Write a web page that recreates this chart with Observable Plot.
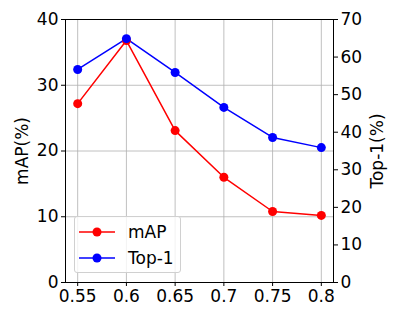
<!DOCTYPE html>
<html><head><meta charset="utf-8">
<script src="https://cdn.jsdelivr.net/npm/d3@7"></script>
<script src="https://cdn.jsdelivr.net/npm/@observablehq/plot@0.6"></script>
<style>
body{margin:0;background:#fff;}
#wrap{position:relative;width:400px;height:320px;font-family:"DejaVu Sans",sans-serif;}
#legend{position:absolute;left:74px;top:216px;width:105px;height:55px;border:1px solid #d0d0d0;border-radius:3px;background:rgba(255,255,255,0.8);font-size:17px;}
.row{position:absolute;left:0;height:20px;white-space:nowrap;}
.row svg{position:absolute;left:4px;top:0;}
.row span{position:absolute;left:53px;top:0;line-height:20px;color:#000;white-space:nowrap;}
</style>
</head><body><div id="wrap"></div>
<script>
const thresholds = [0.55, 0.6, 0.65, 0.7, 0.75, 0.8];
const xTickLabels = ["0.55", "0.6", "0.65", "0.7", "0.75", "0.8"];
const mAP = [27.2, 36.8, 23.1, 16.0, 10.8, 10.2];
const top1 = [56.7, 64.9, 55.9, 46.6, 38.6, 35.9];
const leftTicks = [0, 10, 20, 30, 40];
const rightTicks = [0, 10, 20, 30, 40, 50, 60, 70];
const seriesNames = ["mAP", "Top-1"];
const colors = ["#ff0000", "#0000ff"];
const yLabels = ["mAP(%)", "Top-1(%)"];

const k = 40 / 70;
const data = [];
thresholds.forEach((t, i) => {
  data.push({x: t, y: mAP[i], s: seriesNames[0]});
  data.push({x: t, y: top1[i] * k, s: seriesNames[1]});
});

const chart = Plot.plot({
  width: 400, height: 320,
  marginLeft: 65, marginRight: 67, marginTop: 19, marginBottom: 38,
  style: {fontFamily: "DejaVu Sans, sans-serif", fontSize: "17px", color: "#000", background: "#fff"},
  x: {domain: [0.5375, 0.8125]},
  y: {domain: [0, 40]},
  color: {domain: seriesNames, range: colors},
  marks: [
    Plot.gridX(thresholds, {stroke: "#b0b0b0", strokeOpacity: 1, strokeWidth: 0.8}),
    Plot.gridY([10, 20, 30], {stroke: "#b0b0b0", strokeOpacity: 1, strokeWidth: 0.8}),
    Plot.axisX(thresholds, {tickFormat: (d, i) => xTickLabels[i], tickSize: 4, tickPadding: 3, fontSize: 17, label: null}),
    Plot.axisY(leftTicks, {anchor: "left", tickSize: 4, tickPadding: 3, fontSize: 17, label: null}),
    Plot.axisY(rightTicks.map(v => v * k), {anchor: "right", tickFormat: d => String(Math.round(d / k)), tickSize: 4, tickPadding: 3, fontSize: 17, label: null}),
    Plot.text([yLabels[0]], {frameAnchor: "left", dx: -43, rotate: -90, fontSize: 17, textAnchor: "middle", lineAnchor: "middle", fill: "#000"}),
    Plot.text([yLabels[1]], {frameAnchor: "right", dx: 44, rotate: -90, fontSize: 17, textAnchor: "middle", lineAnchor: "middle", fill: "#000"}),
    Plot.line(data, {x: "x", y: "y", z: "s", stroke: "s", strokeWidth: 1.5}),
    Plot.dot(data, {x: "x", y: "y", fill: "s", r: 4.5}),
    Plot.frame({stroke: "#000", strokeWidth: 1})
  ]
});
const wrap = document.getElementById("wrap");
wrap.appendChild(chart);

const legend = document.createElement("div");
legend.id = "legend";
seriesNames.forEach((n, i) => {
  const row = document.createElement("div");
  row.className = "row";
  row.style.top = (5 + i * 26) + "px";
  row.innerHTML = `<svg width="40" height="20"><line x1="0" x2="36" y1="10" y2="10" stroke="${colors[i]}" stroke-width="1.5"/><circle cx="18" cy="10" r="4.5" fill="${colors[i]}"/></svg><span>${n}</span>`;
  legend.appendChild(row);
});
wrap.appendChild(legend);
</script></body></html>
